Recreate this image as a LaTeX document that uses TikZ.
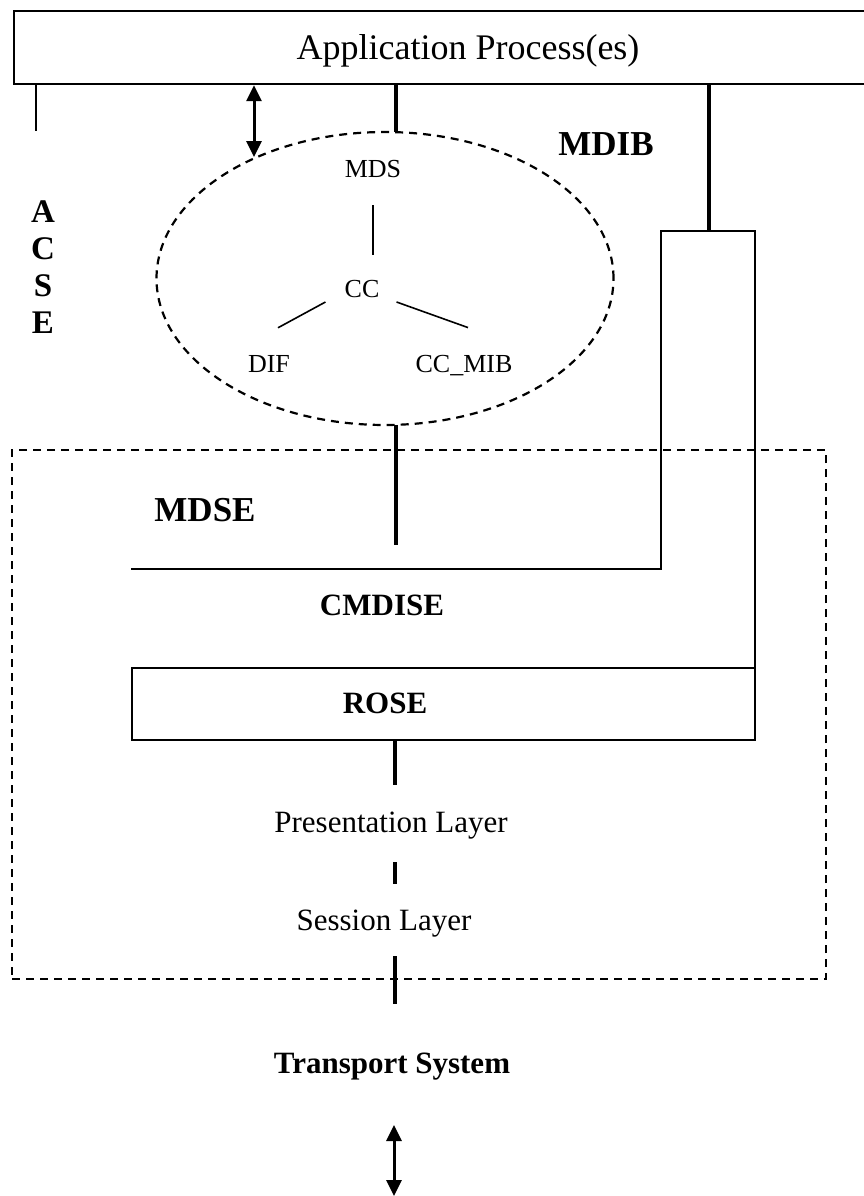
\documentclass[tikz,border=0pt]{standalone}
\usepackage{fontspec}
\setmainfont{Liberation Serif}
\usetikzlibrary{shapes.geometric,arrows.meta}
\begin{document}
\begin{tikzpicture}[x=1pt,y=-1pt,
  lbl/.style={anchor=base, inner sep=0pt},
  reg/.style={lbl, font=\fontsize{31}{36}\selectfont},
  small/.style={lbl, font=\fontsize{26}{30}\selectfont},
  bold/.style={lbl, font=\fontsize{31}{36}\selectfont\bfseries},
  bigbold/.style={lbl, font=\fontsize{35}{40}\selectfont\bfseries},
  letter/.style={lbl, font=\fontsize{33}{36}\selectfont\bfseries},
  thin/.style={line width=2.2pt},
  wire/.style={line width=3.2pt},
  twig/.style={line width=1.6pt},
  dashline/.style={line width=2.2pt, dash pattern=on 8pt off 6pt},
  dbl/.style={line width=3pt,
    {Triangle[width=15pt,length=16pt]}-{Triangle[width=15pt,length=16pt]}},
]
\useasboundingbox (0,0) rectangle (864,1196);
\fill[white] (0,0) rectangle (864,1196);

% --- application process box (runs off the right edge) ---
\node[draw, thin, anchor=north west, inner sep=0pt,
      minimum width=870pt, minimum height=73pt] (app) at (13,10) {};
\node[lbl, font=\fontsize{36}{40}\selectfont] (apptext) at (468,60) {Application Process(es)};

% --- MDSE dashed frame ---
\node[draw, dashline, anchor=north west, inner sep=0pt,
      minimum width=814pt, minimum height=529pt] (mdse) at (11,449) {};

% --- MDIB containment tree ---
\node[ellipse, draw, dashline, inner sep=0pt,
      minimum width=457pt, minimum height=293pt] (mdib) at (385,278.5) {};
\node[small] (mds) at (373,177) {MDS};
\node[small] (cc) at (362,297) {CC};
\node[small] (dif) at (269,372) {DIF};
\node[small] (ccmib) at (464,372) {CC\_MIB};
\draw[twig] ([yshift=-28pt]mds.south) -- ([yshift=25pt]mds.south |- cc.north);
\draw[twig] ([shift={(-19,5)}]cc.base west) -- ([shift={(9,-27)}]dif.north);
\draw[twig] ([shift={(17,5)}]cc.base east) -- ([shift={(4,-27)}]ccmib.north);

\node[bigbold] (mdiblbl) at (606,155) {MDIB};

% --- ACSE, written vertically ---
\node[letter] (acseA) at (43,222) {A};
\node[letter] (acseC) at (43,259) {C};
\node[letter] (acseS) at (43,296) {S};
\node[letter] (acseE) at (43,333) {E};

% --- links hanging from the application box ---
\coordinate (acseEnd) at (36,131);
\coordinate (assoc) at (254,157);
\coordinate (mdsTop) at (396,132.3);
\coordinate (cmdTop) at (709,231);
\draw[thin] (app.south -| acseEnd) -- (acseEnd);
\draw[dbl] (app.south -| assoc) -- (assoc);
\draw[wire] (app.south -| mdsTop) -- (mdsTop);
\draw[wire] (app.south -| cmdTop) -- (cmdTop);

% --- MDSE / CMDISE / ROSE ---
\node[bigbold] (mdselbl) at (205,521) {MDSE};
\coordinate (mdsBot) at (396,424.8);
\coordinate (mdsEnd) at (396,545);
\draw[wire] (mdsBot) -- (mdsEnd);

\coordinate (cA) at (131,569);
\coordinate (cB) at (661,569);
\coordinate (cC) at (661,231);
\coordinate (cD) at (755,231);
\node[draw, thin, anchor=north west, inner sep=0pt,
      minimum width=623pt, minimum height=72pt] (rose) at (131,667) {};
\draw[thin] (cA) -- (cB) -- (cC) -- (cD) -- (rose.north east -| cD);
\node[bold] (cmdise) at (382,615) {CMDISE};
\node[bold] (roselbl) at (385,713) {ROSE};

% --- lower layers ---
\node[reg] (pres) at (391,832) {Presentation Layer};
\node[reg] (sess) at (384,930) {Session Layer};
\node[bold] (trans) at (392,1073) {Transport System};

\coordinate (p1) at (395,785);
\coordinate (s0) at (395,862);
\coordinate (s1) at (395,884);
\coordinate (t0) at (395,956);
\coordinate (t1) at (395,1004);
\coordinate (n0) at (394,1125);
\coordinate (n1) at (394,1196);
\draw[wire] (rose.south -| p1) -- (p1);
\draw[wire] (s0) -- (s1);
\draw[wire] (t0) -- (t1);
\draw[dbl] (n0) -- (n1);
\end{tikzpicture}
\end{document}
